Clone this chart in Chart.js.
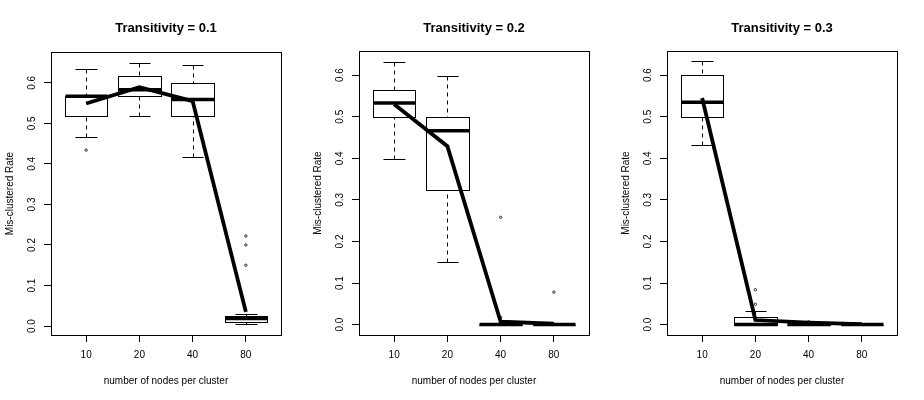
<!DOCTYPE html>
<html>
<head>
<meta charset="utf-8">
<script src="https://cdn.jsdelivr.net/npm/chart.js@4/dist/chart.umd.min.js"></script>
<style>
  html, body { margin: 0; padding: 0; background: #fff; }
  #wrap { position: relative; width: 924px; height: 400px; }
  .panel { position: absolute; top: 0; width: 308px; height: 400px; }
</style>
</head>
<body>
<div id="wrap">
  <div class="panel" style="left:0"><canvas id="c1" width="308" height="400"></canvas></div>
  <div class="panel" style="left:308px"><canvas id="c2" width="308" height="400"></canvas></div>
  <div class="panel" style="left:616px"><canvas id="c3" width="308" height="400"></canvas></div>
</div>
<script>
// categories and ticks
const categories = ['10', '20', '40', '80'];
const panelTitles = ['Transitivity = 0.1', 'Transitivity = 0.2', 'Transitivity = 0.3'];
const yTickValues = [0, 0.1, 0.2, 0.3, 0.4, 0.5, 0.6];
const yRanges = [[-0.022, 0.676], [-0.025, 0.658], [-0.025, 0.658]];

// Transitivity = 0.1
const t1Low = [0.467, 0.518, 0.417, 0.004];
const t1Q1 = [0.518, 0.568, 0.518, 0.011];
const t1Median = [0.567, 0.583, 0.559, 0.019];
const t1Q3 = [0.567, 0.618, 0.600, 0.025];
const t1High = [0.634, 0.650, 0.643, 0.031];
const t1Mean = [0.549, 0.589, 0.555, 0.035];
const t1Outliers = [[0.434], [], [], [0.15, 0.2, 0.222]];

// Transitivity = 0.2
const t2Low = [0.398, 0.150, 0, 0];
const t2Q1 = [0.499, 0.324, 0, 0];
const t2Median = [0.533, 0.466, 0, 0];
const t2Q3 = [0.565, 0.500, 0, 0];
const t2High = [0.632, 0.598, 0, 0];
const t2Mean = [0.530, 0.429, 0.007, 0.002];
const t2Outliers = [[], [], [0.258, 0.017], [0.078]];

// Transitivity = 0.3
const t3Low = [0.433, 0, 0, 0];
const t3Q1 = [0.500, 0, 0, 0];
const t3Median = [0.535, 0, 0, 0];
const t3Q3 = [0.600, 0.018, 0, 0];
const t3High = [0.635, 0.032, 0, 0];
const t3Mean = [0.545, 0.011, 0.005, 0.001];
const t3Outliers = [[], [0.049, 0.084], [0.007], []];

const panels = [
  { low: t1Low, q1: t1Q1, median: t1Median, q3: t1Q3, high: t1High, mean: t1Mean, outliers: t1Outliers },
  { low: t2Low, q1: t2Q1, median: t2Median, q3: t2Q3, high: t2High, mean: t2Mean, outliers: t2Outliers },
  { low: t3Low, q1: t3Q1, median: t3Median, q3: t3Q3, high: t3High, mean: t3Mean, outliers: t3Outliers },
];

const FONT = '"Liberation Sans", Arial, sans-serif';

function crisp(v) { return Math.round(v) + 0.5; }

function boxPlugin(p) {
  return {
    id: 'boxes',
    beforeDatasetsDraw(chart) {
      const { ctx, scales: { x, y } } = chart;
      const seg = (x0, y0, x1, y1) => { ctx.beginPath(); ctx.moveTo(x0, y0); ctx.lineTo(x1, y1); ctx.stroke(); };
      ctx.save();
      ctx.strokeStyle = '#000';
      p.q1.forEach((q1, i) => {
        const cx = crisp(x.getPixelForValue(i + 1));
        const bx0 = crisp(x.getPixelForValue(i + 0.6));
        const bx1 = crisp(x.getPixelForValue(i + 1.4));
        const sx0 = crisp(x.getPixelForValue(i + 0.8));
        const sx1 = crisp(x.getPixelForValue(i + 1.2));
        const yLo = crisp(y.getPixelForValue(p.low[i]));
        const yQ1 = crisp(y.getPixelForValue(q1));
        const yMed = y.getPixelForValue(p.median[i]);
        const yQ3 = crisp(y.getPixelForValue(p.q3[i]));
        const yHi = crisp(y.getPixelForValue(p.high[i]));
        ctx.lineWidth = 1;
        ctx.setLineDash([4, 4]);
        if (yHi < yQ3) seg(cx, yHi, cx, yQ3);
        if (yLo > yQ1) seg(cx, yLo, cx, yQ1);
        ctx.setLineDash([]);
        seg(sx0, yHi, sx1, yHi);
        seg(sx0, yLo, sx1, yLo);
        ctx.strokeRect(bx0, yQ3, bx1 - bx0, yQ1 - yQ3);
        ctx.lineWidth = 3.5;
        ctx.lineCap = 'butt';
        seg(bx0, yMed, bx1, yMed);
      });
      ctx.restore();
    },
    afterDraw(chart) {
      const { ctx, chartArea: a } = chart;
      ctx.save();
      ctx.strokeStyle = '#000';
      ctx.lineWidth = 1;
      ctx.strokeRect(crisp(a.left), crisp(a.top), Math.round(a.right - a.left), Math.round(a.bottom - a.top));
      ctx.restore();
    }
  };
}

panels.forEach((p, k) => {
  const outlierPoints = [];
  p.outliers.forEach((vals, i) => vals.forEach(v => outlierPoints.push({ x: i + 1, y: v })));
  new Chart(document.getElementById('c' + (k + 1)), {
    type: 'line',
    data: {
      datasets: [
        {
          label: 'mean',
          data: p.mean.map((v, i) => ({ x: i + 1, y: v })),
          borderColor: '#000',
          borderWidth: 3.8,
          pointRadius: 0,
          tension: 0,
        },
        {
          label: 'outliers',
          data: outlierPoints,
          showLine: false,
          pointStyle: 'circle',
          pointRadius: 1.2,
          pointBorderWidth: 0.8,
          pointBorderColor: '#000',
          pointBackgroundColor: 'rgba(0,0,0,0)',
        },
      ],
    },
    options: {
      responsive: false,
      animation: false,
      devicePixelRatio: 1,
      layout: { padding: { left: 0, right: 27, top: 0, bottom: 0 } },
      plugins: {
        legend: { display: false },
        tooltip: { enabled: false },
        title: {
          display: true,
          fullSize: false,
          text: panelTitles[k],
          color: '#000',
          font: { family: FONT, size: 13, weight: 'bold' },
          padding: { top: 21, bottom: k === 0 ? 15.4 : 14.4 },
        },
      },
      scales: {
        x: {
          type: 'linear',
          min: 0.34,
          max: 4.66,
          afterBuildTicks: s => { s.ticks = categories.map((c, i) => ({ value: i + 1 })); },
          afterFit: s => { s.height = 65; },
          ticks: {
            autoSkip: false,
            color: '#000',
            font: { family: FONT, size: 10 },
            padding: 7,
            callback: v => categories[v - 1],
          },
          grid: { drawOnChartArea: false, drawTicks: true, tickLength: 7, color: '#000', offset: false },
          border: { display: false },
          title: {
            display: true,
            text: 'number of nodes per cluster',
            color: '#000',
            font: { family: FONT, size: 10 },
            padding: { top: 0, bottom: 13 },
          },
        },
        y: {
          type: 'linear',
          min: yRanges[k][0],
          max: yRanges[k][1],
          afterBuildTicks: s => { s.ticks = yTickValues.map(v => ({ value: v })); },
          afterFit: s => { s.width = 51; },
          ticks: {
            autoSkip: false,
            color: '#000',
            font: { family: FONT, size: 10 },
            minRotation: 90,
            maxRotation: 90,
            crossAlign: 'center',
            padding: 5,
            callback: v => v.toFixed(1),
          },
          grid: { drawOnChartArea: false, drawTicks: true, tickLength: 7, color: '#000' },
          border: { display: false },
          title: {
            display: true,
            text: 'Mis-clustered Rate',
            color: '#000',
            font: { family: FONT, size: 10 },
            padding: { top: 4, bottom: 0 },
          },
        },
      },
    },
    plugins: [boxPlugin(p)],
  });
});
</script>
</body>
</html>
